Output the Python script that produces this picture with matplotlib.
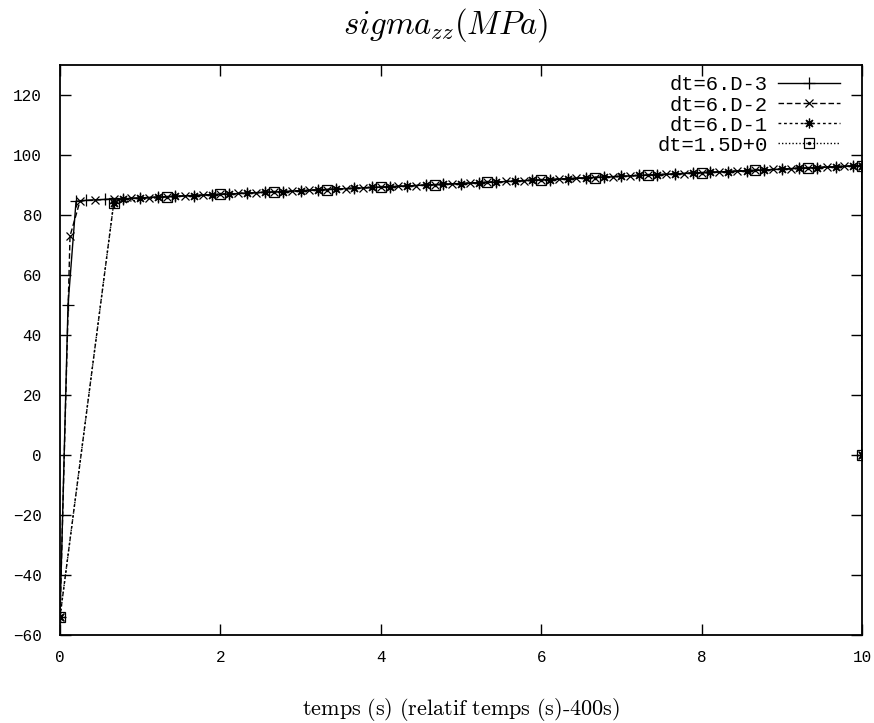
import matplotlib
matplotlib.use("Agg")
import matplotlib.pyplot as plt

# output times / values on the common plateau
t_even = [0.44, 0.67, 0.89, 1.11, 1.33, 1.56, 1.78, 2.0, 2.22, 2.44, 2.67, 2.89,
          3.11, 3.33, 3.56, 3.78, 4.0, 4.22, 4.44, 4.67, 4.89, 5.11, 5.33, 5.56,
          5.78, 6.0, 6.22, 6.44, 6.67, 6.89, 7.11, 7.33, 7.56, 7.78, 8.0, 8.22,
          8.44, 8.67, 8.89, 9.11, 9.33, 9.56, 9.78, 10.0]
y_even = [85.0, 85.3, 85.6, 85.8, 86.1, 86.4, 86.6, 86.9, 87.2, 87.4, 87.7, 87.9,
          88.2, 88.5, 88.8, 89.0, 89.3, 89.6, 89.8, 90.1, 90.4, 90.6, 90.9, 91.2,
          91.4, 91.7, 92.0, 92.2, 92.5, 92.8, 93.0, 93.3, 93.6, 93.8, 94.1, 94.4,
          94.6, 94.9, 95.2, 95.4, 95.7, 96.0, 96.2, 96.5]
t_odd = [0.78, 1.0, 1.22, 1.44, 1.67, 1.89, 2.11, 2.33, 2.56, 2.78, 3.0, 3.22,
         3.44, 3.67, 3.89, 4.11, 4.33, 4.56, 4.78, 5.0, 5.22, 5.44, 5.67, 5.89,
         6.11, 6.33, 6.56, 6.78, 7.0, 7.22, 7.44, 7.67, 7.89, 8.11, 8.33, 8.56,
         8.78, 9.0, 9.22, 9.44, 9.67, 9.89, 10.0]
y_odd = [85.4, 85.7, 86.0, 86.2, 86.5, 86.8, 87.0, 87.3, 87.6, 87.8, 88.1, 88.4,
         88.6, 88.9, 89.2, 89.4, 89.7, 90.0, 90.2, 90.5, 90.8, 91.0, 91.3, 91.6,
         91.8, 92.1, 92.4, 92.6, 92.9, 93.2, 93.4, 93.7, 94.0, 94.2, 94.5, 94.8,
         95.0, 95.3, 95.6, 95.8, 96.1, 96.4, 96.5]

# dt=6.D-3
x1 = [0.0, 0.1, 0.2, 0.33, 0.56] + t_odd + [10.0]
y1 = [-54.0, 50.0, 84.6, 84.9, 85.2] + y_odd + [0.0]
# dt=6.D-2
x2 = [0.0, 0.125, 0.25] + t_even + [10.0]
y2 = [-54.0, 73.0, 84.7] + y_even + [0.0]
# dt=6.D-1
x3 = [0.0, 0.67] + t_odd + [10.0]
y3 = [-54.0, 84.0] + y_odd + [0.0]
# dt=1.5D+0
x4 = [0.0, 0.67, 1.33, 2.0, 2.67, 3.33, 4.0, 4.67, 5.33, 6.0, 6.67, 7.33, 8.0,
      8.67, 9.33, 10.0, 10.0]
y4 = [-54.0, 84.0, 86.1, 86.9, 87.7, 88.5, 89.3, 90.1, 90.9, 91.7, 92.5, 93.3,
      94.1, 94.9, 95.7, 96.5, 0.0]

labels = ["dt=6.D-3", "dt=6.D-2", "dt=6.D-1", "dt=1.5D+0"]

plt.rcParams['mathtext.fontset'] = 'cm'
mono = 'Liberation Mono'

fig = plt.figure(figsize=(8.74, 7.23), dpi=100)
# plot frame: x 60..862 px, y 65..635 px
ax = fig.add_axes([60/874, 1 - 635/723, 802/874, 570/723])

l1, = ax.plot(x1, y1, '-', color='k', lw=1.0, marker='+', ms=9, mew=0.9,
              label=labels[0])
l2, = ax.plot(x2, y2, color='k', lw=1.0, ls=(0, (4, 2)), marker='x', ms=6,
              mew=0.9, label=labels[1])
l3, = ax.plot(x3, y3, color='k', lw=1.0, ls=(0, (2, 2)), marker=(8, 2, 0),
              ms=7, mew=0.9, label=labels[2])
l4, = ax.plot(x4, y4, color='k', lw=1.0, ls=(0, (1, 1.5)), marker='s', ms=6.5,
              mfc='none', mew=0.9, label=labels[3])
l4b, = ax.plot(x4, y4, ls='none', color='k', marker='.', ms=3)

ax.set_xlim(0, 10)
ax.set_ylim(-60, 130)
ax.set_xticks([0, 2, 4, 6, 8, 10])
ax.set_yticks(range(-60, 121, 20))
ax.tick_params(direction='in', length=8, width=1, top=True, right=True,
               labelsize=11.5)
ax.tick_params(axis='x', pad=11)
ax.tick_params(axis='y', pad=13)
for lab in ax.get_xticklabels() + ax.get_yticklabels():
    lab.set_fontfamily(mono)
for sp in ax.spines.values():
    sp.set_linewidth(1.3)

fig.text(446/874, 1 - 25/723, r'$sigma_{zz}(MPa)$', fontsize=23.5,
         ha='center', va='center')
ax.set_xlabel(r'$\mathrm{temps\ (s)\ (relatif\ temps\ (s)\text{-}400s)}$',
              fontsize=16, labelpad=22)

ax.legend([l1, l2, l3, (l4, l4b)], labels, loc='upper right', frameon=False,
          bbox_to_anchor=(0.9776, 0.9888),
          markerfirst=False, handlelength=3.0, handletextpad=0.5,
          labelspacing=0.05, borderaxespad=0.0, borderpad=0.2,
          prop={'family': mono, 'size': 14.8})

fig.savefig('out.png', dpi=100)
